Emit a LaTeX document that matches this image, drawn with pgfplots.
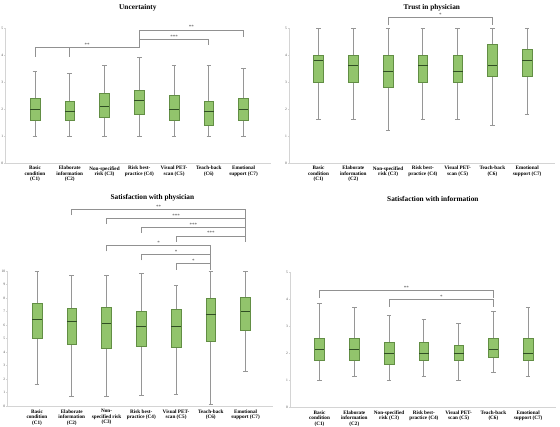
\documentclass[border=0pt]{standalone}
\usepackage{fontspec}
\setmainfont{Liberation Serif}
\usepackage{pgfplots}
\pgfplotsset{compat=1.18}
\usepgfplotslibrary{statistics}

\definecolor{boxfill}{RGB}{146,196,108}
\definecolor{boxedge}{RGB}{98,142,68}
\definecolor{meddark}{RGB}{48,78,36}
\definecolor{whiskgray}{RGB}{150,150,150}
\definecolor{axisgray}{RGB}{212,212,212}
\definecolor{brgray}{RGB}{145,145,145}

\newcommand{\bx}[6]{\addplot[draw=boxedge, fill=boxfill, line width=0.5pt,
  boxplot prepared={draw direction=y, draw position=#1, lower whisker=#2, lower quartile=#3,
  median=#4, upper quartile=#5, upper whisker=#6}] coordinates {};}

\tikzset{sigstar/.style={font=\fontsize{5}{5}\selectfont, text=black!75, anchor=south, inner sep=0.8pt}}

\pgfplotsset{
  panel/.style={
    scale only axis, width=266pt, height=135pt,
    xmin=0.15, xmax=7.8, ymin=0,
    axis lines*=left,
    axis line style={draw=axisgray, line width=0.6pt},
    xtick={1,2,3,4,5,6,7},
    major x tick style={draw=none},
    major y tick style={draw=axisgray, line width=0.4pt},
    tick align=outside, major tick length=1.2pt,
    /pgf/number format/assume math mode=true,
    yticklabel style={font=\fontsize{3.6}{4}\selectfont, inner sep=0.8pt, text=black!70},
    xticklabel style={font=\bfseries\fontsize{5.2}{5.5}\selectfont, align=center, inner sep=1pt, yshift=-1pt},
    clip=false,
    boxplot/draw direction=y,
    boxplot/box extend=0.28,
    boxplot/whisker extend=0.13,
    boxplot/every whisker/.style={draw=whiskgray, line width=0.8pt, fill=none},
    boxplot/every median/.style={draw=meddark, line width=0.9pt},
    boxplot/every box/.style={draw=boxedge, fill=boxfill},
    title style={font=\bfseries\fontsize{7.3}{8}\selectfont, anchor=center, yshift=0pt, inner sep=0pt},
  },
  bracket/.style={draw=brgray, line width=0.7pt, mark=none, sharp plot},
}

\begin{document}
\begin{tikzpicture}
\useasboundingbox (0,0) rectangle (560pt,427pt);

% ---------------- Uncertainty ----------------
\begin{axis}[panel, at={(5.4pt,264pt)}, anchor=south west,
  ymax=5, ytick={0,1,2,3,4,5},
  xticklabels={{Basic\\condition\\(C1)},{Elaborate\\information\\(C2)},{Non-specified\\risk (C3)},{Risk best-\\practice (C4)},{Visual PET-\\scan (C5)},{Teach-back\\(C6)},{Emotional\\support (C7)}},
  title={Uncertainty}, title style={at={(axis description cs:0.498,1.105)}}]
\bx{1}{1.0}{1.6}{2.0}{2.4}{3.4}
\bx{2}{1.0}{1.6}{1.9}{2.3}{3.3}
\bx{3}{1.0}{1.7}{2.1}{2.6}{3.6}
\bx{4}{1.0}{1.8}{2.3}{2.7}{3.9}
\bx{5}{1.0}{1.6}{2.0}{2.5}{3.6}
\bx{6}{1.0}{1.4}{1.9}{2.3}{3.6}
\bx{7}{1.0}{1.6}{2.0}{2.4}{3.5}
\addplot[bracket] coordinates {(1,3.93) (1,4.28) (4,4.28) (4,4.93) (7,4.93) (7,4.68)};
\addplot[bracket] coordinates {(2,3.93) (2,4.28)};
\addplot[bracket] coordinates {(4,4.59) (6,4.59) (6,4.38)};
\node[sigstar] at (axis cs:2.5,4.28) {**};
\node[sigstar] at (axis cs:5,4.59) {***};
\node[sigstar] at (axis cs:5.5,4.93) {**};
\end{axis}

% ---------------- Trust in physician ----------------
\begin{axis}[panel, at={(289pt,264pt)}, anchor=south west,
  ymax=5, ytick={0,1,2,3,4,5},
  xticklabels={{Basic\\condition\\(C1)},{Elaborate\\information\\(C2)},{Non-specified\\risk (C3)},{Risk best-\\practice (C4)},{Visual PET-\\scan (C5)},{Teach-back\\(C6)},{Emotional\\support (C7)}},
  title={Trust in physician}, title style={at={(axis description cs:0.537,1.105)}}]
\bx{1}{1.6}{3.0}{3.8}{4.0}{5.0}
\bx{2}{1.6}{3.0}{3.6}{4.0}{5.0}
\bx{3}{1.2}{2.8}{3.4}{4.0}{5.0}
\bx{4}{1.6}{3.0}{3.6}{4.0}{5.0}
\bx{5}{1.6}{3.0}{3.4}{4.0}{5.0}
\bx{6}{1.4}{3.2}{3.6}{4.4}{5.0}
\bx{7}{1.8}{3.2}{3.8}{4.2}{5.0}
\addplot[bracket] coordinates {(3,5.1) (3,5.38) (6,5.38) (6,5.1)};
\node[sigstar] at (axis cs:4.5,5.38) {*};
\end{axis}

% ---------------- Satisfaction with physician ----------------
\begin{axis}[panel, at={(7.4pt,21pt)}, anchor=south west,
  ymax=10, ytick={0,1,2,3,4,5,6,7,8,9,10},
  xticklabels={{Basic\\condition\\(C1)},{Elaborate\\information\\(C2)},{Non-\\specified risk\\(C3)},{Risk best-\\practice (C4)},{Visual PET-\\scan (C5)},{Teach-back\\(C6)},{Emotional\\support (C7)}},
  title={Satisfaction with physician}, title style={at={(axis description cs:0.545,1.496)}}]
\bx{1}{1.62}{5.0}{6.38}{7.62}{10.0}
\bx{2}{0.72}{4.6}{6.23}{7.22}{9.66}
\bx{3}{0.72}{4.27}{6.08}{7.35}{9.66}
\bx{4}{0.77}{4.39}{5.86}{7.02}{9.83}
\bx{5}{0.89}{4.34}{5.86}{7.13}{8.94}
\bx{6}{0.15}{4.82}{6.78}{7.99}{10.0}
\bx{7}{2.53}{5.64}{7.02}{8.04}{10.0}
\addplot[bracket] coordinates {(2,14.14) (2,14.53) (7,14.53) (7,12.16)};
\addplot[bracket] coordinates {(3,13.48) (3,13.87) (7,13.87)};
\addplot[bracket] coordinates {(4,12.82) (4,13.24) (7,13.24)};
\addplot[bracket] coordinates {(5,12.16) (5,12.6) (7,12.6)};
\addplot[bracket] coordinates {(3,11.45) (3,11.89) (6,11.89) (6,10.1)};
\addplot[bracket] coordinates {(4,10.78) (4,11.23) (6,11.23)};
\addplot[bracket] coordinates {(5,10.1) (5,10.59) (6,10.59)};
\node[sigstar] at (axis cs:4.5,14.53) {**};
\node[sigstar] at (axis cs:5,13.87) {***};
\node[sigstar] at (axis cs:5.5,13.24) {***};
\node[sigstar] at (axis cs:6,12.6) {***};
\node[sigstar] at (axis cs:4.5,11.89) {*};
\node[sigstar] at (axis cs:5,11.23) {*};
\node[sigstar] at (axis cs:5.5,10.59) {*};
\end{axis}

% ---------------- Satisfaction with information ----------------
\begin{axis}[panel, at={(290pt,20pt)}, anchor=south west,
  ymax=5, ytick={0,1,2,3,4,5},
  xticklabels={{Basic\\condition\\(C1)},{Elaborate\\information\\(C2)},{Non-specified\\risk (C3)},{Risk best-\\practice (C4)},{Visual PET-\\scan (C5)},{Teach-back\\(C6)},{Emotional\\support (C7)}},
  title={Satisfaction with information}, title style={at={(axis description cs:0.537,1.496)}}]
\bx{1}{1.0}{1.72}{2.12}{2.55}{3.82}
\bx{2}{1.14}{1.72}{2.12}{2.55}{3.69}
\bx{3}{1.0}{1.57}{1.99}{2.41}{3.41}
\bx{4}{1.14}{1.72}{1.99}{2.41}{3.26}
\bx{5}{1.0}{1.72}{1.99}{2.27}{3.11}
\bx{6}{1.28}{1.85}{2.12}{2.55}{3.55}
\bx{7}{1.14}{1.72}{1.99}{2.55}{3.69}
\addplot[bracket] coordinates {(1,4.05) (1,4.33) (6,4.33) (6,4.05)};
\addplot[bracket] coordinates {(3,3.72) (3,3.98) (6,3.98) (6,3.72)};
\node[sigstar] at (axis cs:3.5,4.33) {**};
\node[sigstar] at (axis cs:4.5,3.98) {*};
\end{axis}
\end{tikzpicture}
\end{document}
